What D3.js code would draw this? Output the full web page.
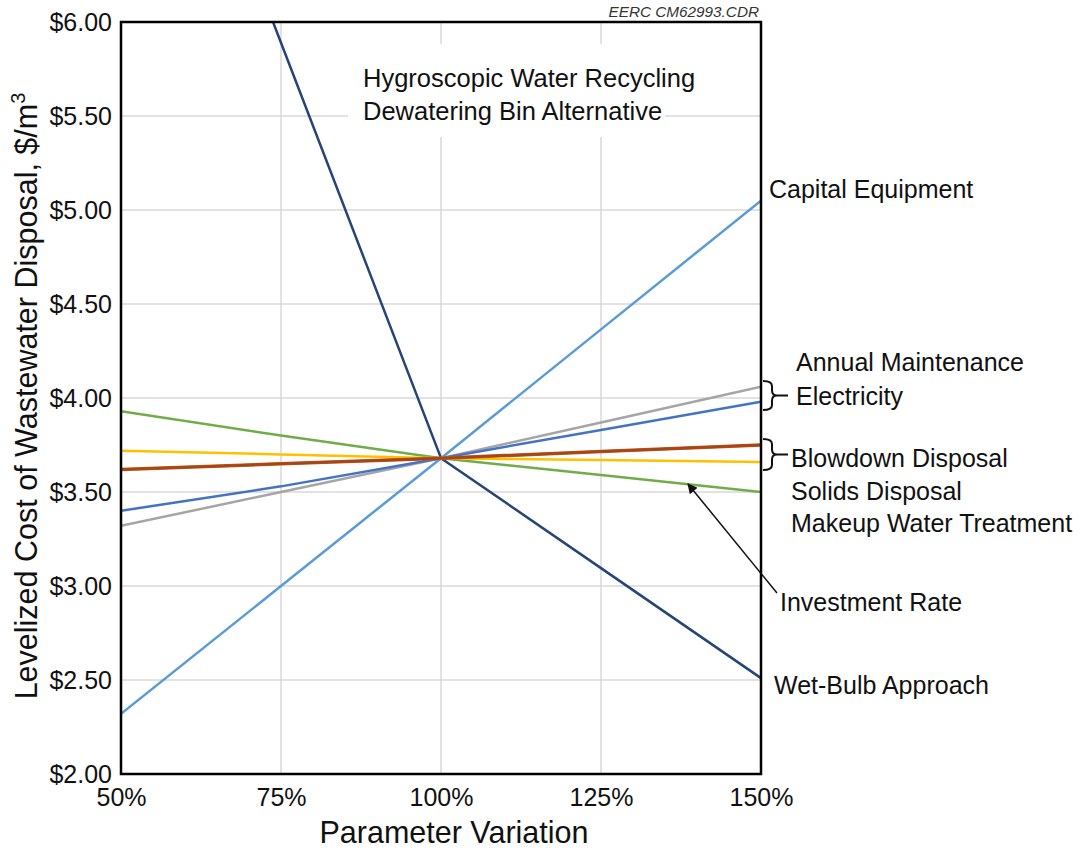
<!DOCTYPE html>
<html>
<head>
<meta charset="utf-8">
<script src="https://cdn.jsdelivr.net/npm/d3@7"></script>
<style>
  html, body { margin: 0; padding: 0; background: #fff; }
  svg { display: block; font-family: "Liberation Sans", Arial, sans-serif; }
</style>
</head>
<body>
<svg id="chart" width="1082" height="850"></svg>
<script>
// Parameter variation (percent of base case)
const variations = [50, 75, 100, 125, 150];

// Levelized cost ($/m3) at each variation, per parameter
const capitalEquipment     = [2.32, 3.00, 3.68, 4.365, 5.05];
const annualMaintenance    = [3.32, 3.50, 3.68, 3.87, 4.06];
const electricity          = [3.40, 3.53, 3.68, 3.83, 3.98];
const solidsDisposal       = [3.62, 3.65, 3.68, 3.715, 3.75];
const blowdownDisposal     = [3.62, 3.65, 3.68, 3.715, 3.75];
const makeupWaterTreatment = [3.72, 3.70, 3.68, 3.67, 3.66];
const investmentRate       = [3.93, 3.80, 3.68, 3.59, 3.50];
const wetBulbApproach      = [8.10, 5.89, 3.68, 3.095, 2.51];

const yTicks = [2.0, 2.5, 3.0, 3.5, 4.0, 4.5, 5.0, 5.5, 6.0];
const xTicks = [50, 75, 100, 125, 150];

const series = [
  { name: "Wet-Bulb Approach",      values: wetBulbApproach,      color: "#264478", width: 2.5 },
  { name: "Capital Equipment",      values: capitalEquipment,     color: "#5B9BD5", width: 2.5 },
  { name: "Annual Maintenance",     values: annualMaintenance,    color: "#A5A5A5", width: 2.5 },
  { name: "Electricity",            values: electricity,          color: "#4472C4", width: 2.5 },
  { name: "Investment Rate",        values: investmentRate,       color: "#70AD47", width: 2.5 },
  { name: "Makeup Water Treatment", values: makeupWaterTreatment, color: "#FFC000", width: 2.5 },
  { name: "Solids Disposal",        values: solidsDisposal,       color: "#C55A11", width: 3.5 },
  { name: "Blowdown Disposal",      values: blowdownDisposal,     color: "#A5461A", width: 2.5 }
];

const svg = d3.select("#chart");
const plot = { left: 121, right: 761, top: 22, bottom: 774 };

const x = d3.scaleLinear().domain([50, 150]).range([plot.left, plot.right]);
const y = d3.scaleLinear().domain([2, 6]).range([plot.bottom, plot.top]);

// Gridlines
const grid = svg.append("g").attr("stroke", "#d9d9d9").attr("stroke-width", 1.5);
grid.selectAll("line.h").data(yTicks.slice(1, -1)).join("line")
  .attr("x1", plot.left).attr("x2", plot.right)
  .attr("y1", d => y(d)).attr("y2", d => y(d));
grid.selectAll("line.v").data(xTicks.slice(1, -1)).join("line")
  .attr("y1", plot.top).attr("y2", plot.bottom)
  .attr("x1", d => x(d)).attr("x2", d => x(d));

// Chart title on a white panel
svg.append("rect").attr("x", 348).attr("y", 44).attr("width", 317).attr("height", 93).attr("fill", "#fff");
const title = svg.append("text").attr("font-size", 25.5).attr("fill", "#111");
title.append("tspan").attr("x", 363).attr("y", 87).text("Hygroscopic Water Recycling");
title.append("tspan").attr("x", 363).attr("y", 120).text("Dewatering Bin Alternative");

// Series lines, clipped to the plot area
svg.append("clipPath").attr("id", "plot-clip").append("rect")
  .attr("x", plot.left).attr("y", plot.top)
  .attr("width", plot.right - plot.left).attr("height", plot.bottom - plot.top);

const line = d3.line().x((d, i) => x(variations[i])).y(d => y(d));
svg.append("g").attr("clip-path", "url(#plot-clip)")
  .selectAll("path").data(series).join("path")
  .attr("fill", "none")
  .attr("stroke", d => d.color)
  .attr("stroke-width", d => d.width)
  .attr("stroke-linejoin", "round")
  .attr("d", d => line(d.values));

// Frame
svg.append("rect").attr("x", plot.left).attr("y", plot.top)
  .attr("width", plot.right - plot.left).attr("height", plot.bottom - plot.top)
  .attr("fill", "none").attr("stroke", "#000").attr("stroke-width", 2.5);

// Axes
const yAxis = svg.append("g").attr("transform", `translate(${plot.left},0)`)
  .call(d3.axisLeft(y).tickValues(yTicks).tickFormat(d3.format("$.2f")).tickSize(0).tickPadding(9));
const xAxis = svg.append("g").attr("transform", `translate(0,${plot.bottom})`)
  .call(d3.axisBottom(x).tickValues(xTicks).tickFormat(d => d + "%").tickSize(0).tickPadding(14));
[yAxis, xAxis].forEach(a => {
  a.select(".domain").remove();
  a.selectAll("text").attr("font-size", 25).attr("fill", "#111")
    .attr("font-family", "'Liberation Sans', Arial, sans-serif");
});

// Axis titles
svg.append("text").attr("x", 454).attr("y", 843).attr("text-anchor", "middle")
  .attr("font-size", 30.5).attr("fill", "#111").text("Parameter Variation");
const yTitle = svg.append("text")
  .attr("transform", "translate(37,396) rotate(-90)")
  .attr("text-anchor", "middle").attr("font-size", 30.5).attr("fill", "#111");
yTitle.append("tspan").text("Levelized Cost of Wastewater Disposal, $/m");
yTitle.append("tspan").attr("font-size", 20).attr("dy", -12).text("3");

// Drawing reference
svg.append("text").attr("x", 759).attr("y", 17).attr("text-anchor", "end")
  .attr("font-size", 15.3).attr("font-style", "italic").attr("fill", "#333").text("EERC CM62993.CDR");

// Series labels
const labels = [
  { text: "Capital Equipment",      x: 769, y: 198 },
  { text: "Annual Maintenance",     x: 796, y: 371 },
  { text: "Electricity",            x: 796, y: 405 },
  { text: "Blowdown Disposal",      x: 791, y: 467 },
  { text: "Solids Disposal",        x: 791, y: 500 },
  { text: "Makeup Water Treatment", x: 791, y: 532 },
  { text: "Investment Rate",        x: 780, y: 611 },
  { text: "Wet-Bulb Approach",      x: 774, y: 694 }
];
svg.append("g").selectAll("text").data(labels).join("text")
  .attr("x", d => d.x).attr("y", d => d.y)
  .attr("font-size", 25).attr("fill", "#111").text(d => d.text);

// Curly braces grouping line ends
function brace(x0, y0, y1, tip) {
  const m = (y0 + y1) / 2, r = 5, xb = x0 + 9;
  return `M${x0},${y0} Q${xb},${y0} ${xb},${y0 + r} L${xb},${m - r} Q${xb},${m} ${xb + r},${m} L${tip},${m}` +
         ` M${xb + r},${m} Q${xb},${m} ${xb},${m + r} L${xb},${y1 - r} Q${xb},${y1} ${x0},${y1}`;
}
svg.append("path").attr("d", brace(763, 381, 410, 788))
  .attr("fill", "none").attr("stroke", "#111").attr("stroke-width", 2);
svg.append("path").attr("d", brace(763, 439, 470, 788))
  .attr("fill", "none").attr("stroke", "#111").attr("stroke-width", 2);

// Arrow pointing at the investment-rate line
svg.append("defs").append("marker").attr("id", "arrow")
  .attr("viewBox", "0 0 10 10").attr("refX", 9).attr("refY", 5)
  .attr("markerWidth", 12).attr("markerHeight", 10).attr("markerUnits", "userSpaceOnUse")
  .attr("orient", "auto")
  .append("path").attr("d", "M0,0 L10,5 L0,10 Z").attr("fill", "#111");
svg.append("line").attr("x1", 777).attr("y1", 593).attr("x2", 688).attr("y2", 484)
  .attr("stroke", "#111").attr("stroke-width", 1.5).attr("marker-end", "url(#arrow)");
</script>
</body>
</html>
